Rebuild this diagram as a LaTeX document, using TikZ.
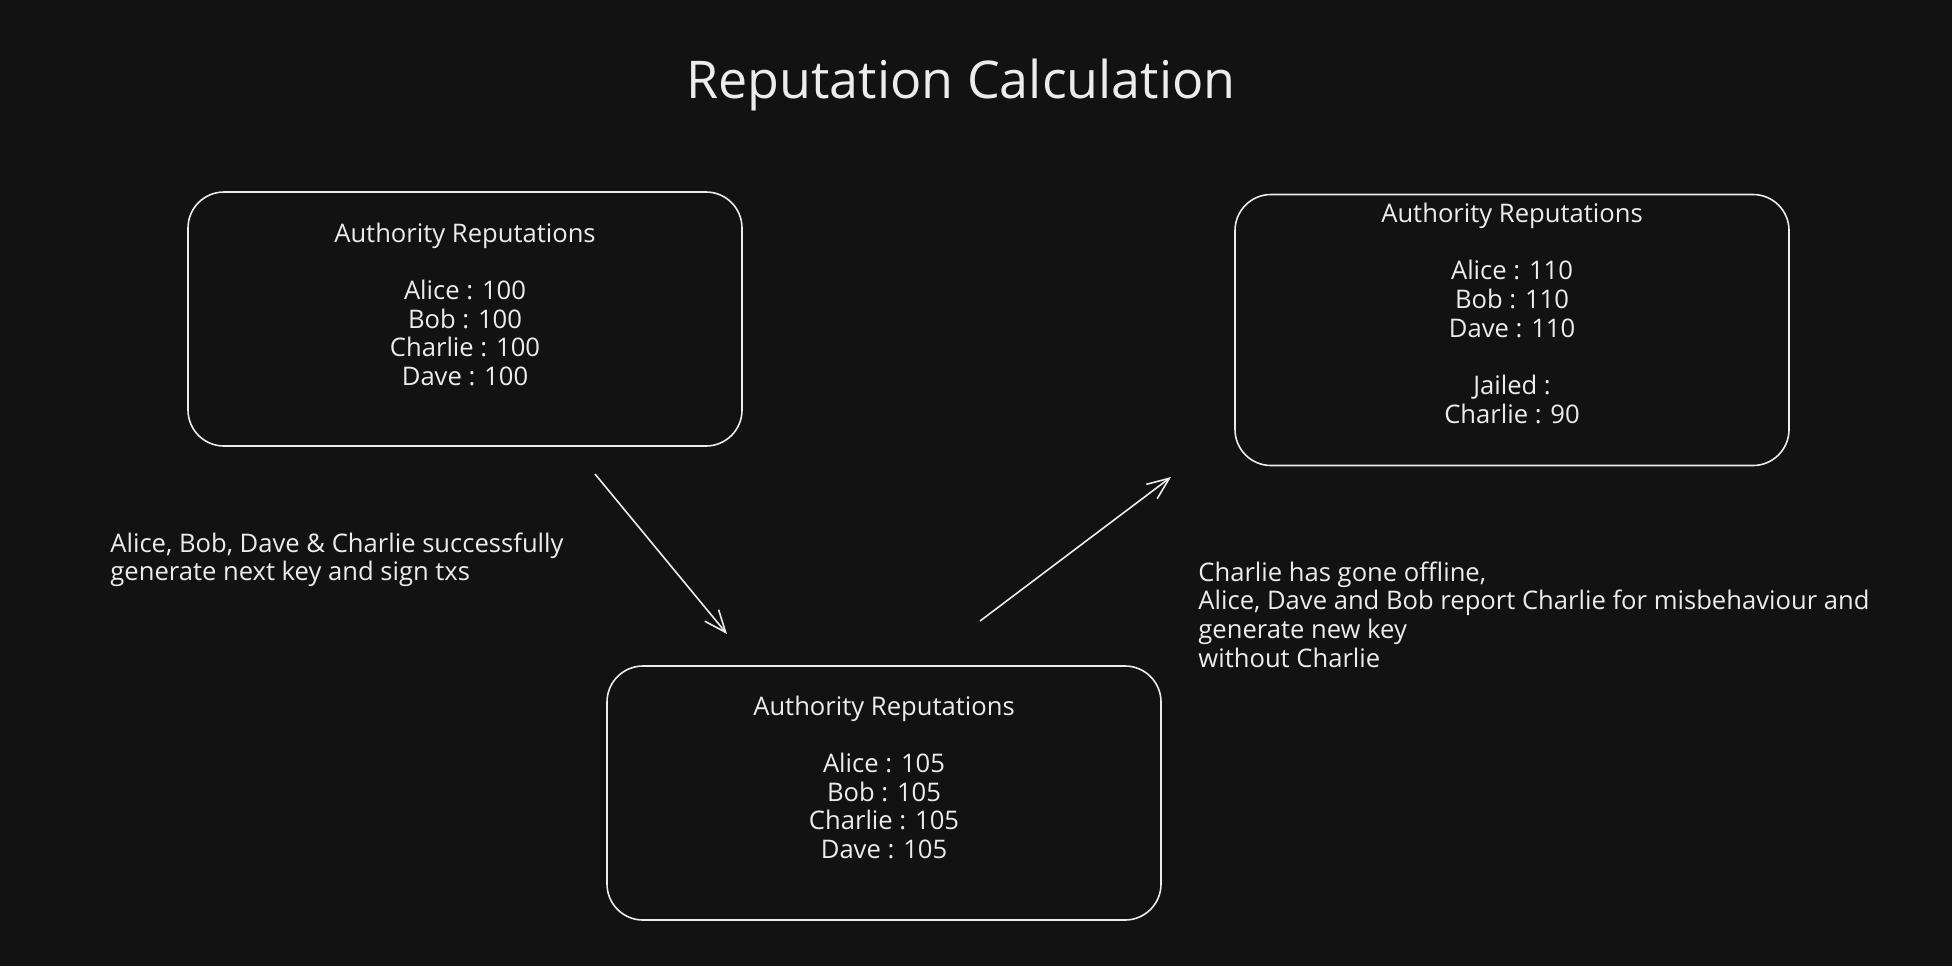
\documentclass[tikz,border=0pt]{standalone}
\usepackage{fontspec}
\setmainfont{Open Sans}
\usepackage{xcolor}
\usetikzlibrary{arrows.meta, positioning}

\definecolor{bgdark}{HTML}{121212}
\definecolor{inkwhite}{HTML}{ECECEC}

\begin{document}
\begin{tikzpicture}[
    x=0.5pt, y=-0.5pt,
    every node/.style={text=inkwhite},
    repbox/.style={rectangle, rounded corners=18pt, draw=inkwhite, line width=0.8pt, minimum width=277pt, minimum height=127pt},
    replist/.style={inner sep=0pt, align=center, font=\fontsize{12.8}{14.35}\selectfont},
    note/.style={inner sep=0pt, align=left, anchor=north west, font=\fontsize{12.8}{14.35}\selectfont},
    arrow/.style={-{Straight Barb[length=11pt,width=9pt]}, draw=inkwhite, line width=0.8pt}
]
\fill[bgdark] (0,0) rectangle (1952,966);

\node (title) [anchor=base, font=\fontsize{26}{30}\selectfont] at (961,98) {Reputation Calculation};

% reputation tables
\node (start) [repbox] at (465,319) {};
\node (afterround) [repbox] at (884,793) {};
\node (afterjail) [repbox, minimum height=135.5pt] at (1512,330) {};

\node (startlist) [replist, below=15.5pt of start.north] {Authority Reputations\\[14.35pt]Alice : 100\\Bob : 100\\Charlie : 100\\Dave : 100};
\node (roundlist) [replist, below=15pt of afterround.north] {Authority Reputations\\[14.35pt]Alice : 105\\Bob : 105\\Charlie : 105\\Dave : 105};
\node (jaillist) [replist, below=4.5pt of afterjail.north] {Authority Reputations\\[14.35pt]Alice : 110\\Bob : 110\\Dave : 110\\[14.35pt]Jailed :\\Charlie : 90};

% transitions
\coordinate (roundtail) at (595,474);
\coordinate (roundhead) at (727,634);
\coordinate (jailtail) at (980,621);
\coordinate (jailhead) at (1171,477);
\draw [arrow] (roundtail) -- (roundhead);
\draw [arrow] (jailtail) -- (jailhead);

\node (roundnote) [note] at (110,532) {Alice, Bob, Dave \& Charlie successfully\\generate next key and sign txs};
\node (jailnote) [note] at (1198,561) {Charlie has gone offline,\\Alice, Dave and Bob report Charlie for misbehaviour and\\generate new key\\without Charlie};
\end{tikzpicture}
\end{document}
